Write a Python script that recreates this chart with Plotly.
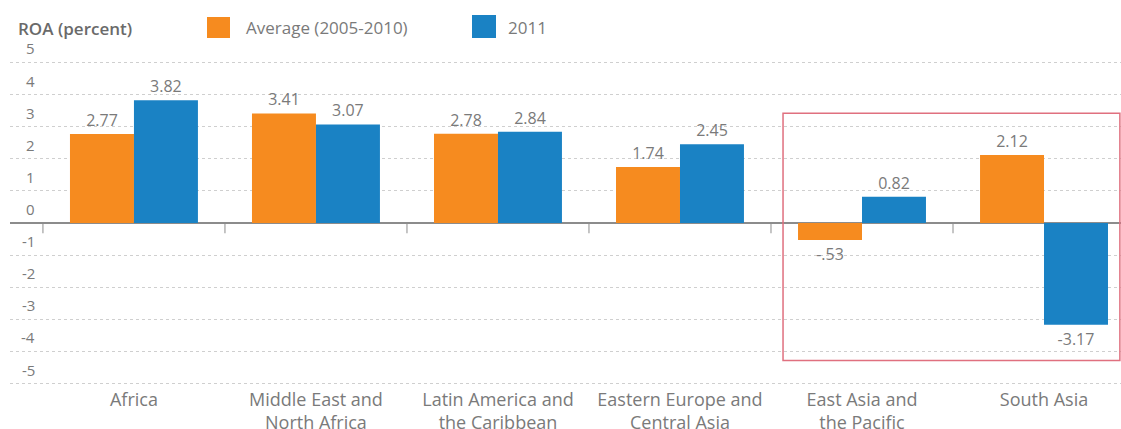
import plotly.graph_objects as go

categories = ["Africa", "Middle East and<br>North Africa", "Latin America and<br>the Caribbean",
              "Eastern Europe and<br>Central Asia", "East Asia and<br>the Pacific", "South Asia"]
avg_2005_2010 = [2.77, 3.41, 2.78, 1.74, -0.53, 2.12]
val_2011 = [3.82, 3.07, 2.84, 2.45, 0.82, -3.17]
avg_labels = ["2.77", "3.41", "2.78", "1.74", "-.53", "2.12"]
y2011_labels = ["3.82", "3.07", "2.84", "2.45", "0.82", "-3.17"]
y_ticks = [5, 4, 3, 2, 1, 0, -1, -2, -3, -4, -5]
series_names = ["Average (2005-2010)", "2011"]
y_title = "ROA (percent)"

ORANGE = "#F68B1F"
BLUE = "#1A82C4"
TXT = "#7a7a7a"
FONT = "Open Sans"

pos = list(range(len(categories)))

fig = go.Figure()
fig.add_trace(go.Bar(x=pos, y=avg_2005_2010, name=series_names[0], marker_color=ORANGE,
                     marker_line_width=0, text=avg_labels, textposition="outside",
                     textangle=0, constraintext="none", cliponaxis=False,
                     textfont=dict(size=16, color=TXT, family=FONT)))
fig.add_trace(go.Bar(x=pos, y=val_2011, name=series_names[1], marker_color=BLUE,
                     marker_line_width=0, text=y2011_labels, textposition="outside",
                     textangle=0, constraintext="none", cliponaxis=False,
                     textfont=dict(size=16, color=TXT, family=FONT)))

shapes = []
# category separator ticks on the zero line
for i in range(len(categories) + 1):
    shapes.append(dict(type="line", xref="x", yref="y", x0=i - 0.5, x1=i - 0.5,
                       y0=0, y1=-0.32, line=dict(color="#8c8c8c", width=1)))
# highlight box
shapes.append(dict(type="rect", xref="paper", yref="y", x0=0.6958, x1=0.999,
                   y0=-4.28, y1=3.42, line=dict(color="#E0707F", width=1.5),
                   fillcolor="rgba(0,0,0,0)"))
# legend swatches
shapes.append(dict(type="rect", xref="paper", yref="paper", x0=(207 - 10) / 1111, x1=(230 - 10) / 1111,
                   y0=(390 - 38) / 334, y1=(390 - 17) / 334, fillcolor=ORANGE, line_width=0))
shapes.append(dict(type="rect", xref="paper", yref="paper", x0=(472 - 10) / 1111, x1=(496 - 10) / 1111,
                   y0=(390 - 38) / 334, y1=(390 - 15) / 334, fillcolor=BLUE, line_width=0))

annotations = []
for t in y_ticks:
    annotations.append(dict(x=(37 - 10) / 1111, xref="paper", y=t, yref="y", text=str(t),
                            showarrow=False, xanchor="right", yanchor="bottom", yshift=2,
                            font=dict(size=15, color=TXT, family=FONT)))
annotations.append(dict(x=(16 - 10) / 1111, xref="paper", y=(390 - 28) / 334, yref="paper",
                        text=y_title, showarrow=False, xanchor="left", yanchor="middle",
                        font=dict(size=17, color="#6a6a6a", family=FONT, weight=600)))
annotations.append(dict(x=(244 - 10) / 1111, xref="paper", y=(390 - 27) / 334, yref="paper",
                        text=series_names[0], showarrow=False, xanchor="left", yanchor="middle",
                        font=dict(size=17, color=TXT, family=FONT)))
annotations.append(dict(x=(506 - 10) / 1111, xref="paper", y=(390 - 27) / 334, yref="paper",
                        text=series_names[1], showarrow=False, xanchor="left", yanchor="middle",
                        font=dict(size=17, color=TXT, family=FONT)))

fig.update_layout(
    width=1121, height=429,
    margin=dict(l=10, r=0, t=56, b=39),
    paper_bgcolor="white", plot_bgcolor="white",
    barmode="group", bargap=0.297, bargroupgap=0.0,
    showlegend=False,
    font=dict(family=FONT, color=TXT),
    shapes=shapes, annotations=annotations,
    xaxis=dict(range=[-0.681, 5.423], tickmode="array", tickvals=pos, ticktext=categories,
               showgrid=False, zeroline=False, showline=False, automargin=False,
               ticks="", ticklabelstandoff=-3,
               tickfont=dict(size=18, color=TXT, family=FONT)),
    yaxis=dict(range=[-5.2, 5.2], tickmode="array", tickvals=y_ticks, showticklabels=False,
               automargin=False,
               showgrid=True, gridcolor="#cfcfcf", griddash="dot", gridwidth=1,
               zeroline=True, zerolinecolor="#8c8c8c", zerolinewidth=2, showline=False),
)

fig.write_html("out.html", config={"displayModeBar": False},
               post_script="document.body.style.margin='0';document.body.style.overflow='hidden';")
